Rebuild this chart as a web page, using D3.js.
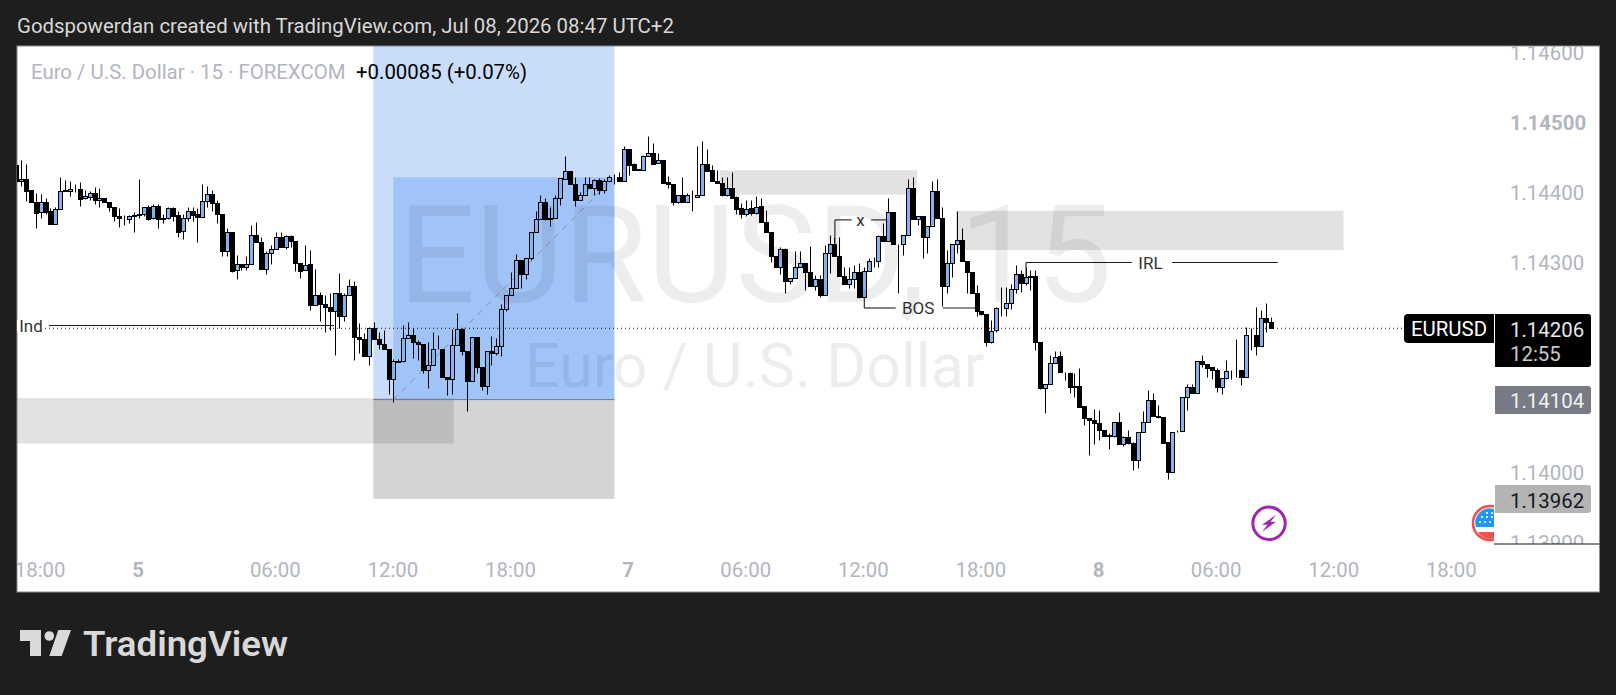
<!DOCTYPE html>
<html><head><meta charset="utf-8">
<script src="https://cdn.jsdelivr.net/npm/d3@7/dist/d3.min.js"></script>
<style>html,body{margin:0;padding:0;background:#1e1e1e;overflow:hidden}svg{display:block}text{font-family:Roboto,sans-serif}</style>
</head><body><div id="c"></div>
<script>
// OHLC values in points (1e-5) above the base price
const basePrice = 1.14;
const opens = [440,416,419,404,387,372,386,373,355,376,
404,402,405,405,392,394,399,390,393,386,
380,366,363,362,367,368,370,379,363,381,
362,363,378,368,345,363,373,369,365,388,
398,385,369,317,343,289,298,293,298,340,
330,291,313,319,336,322,338,331,300,289,
298,239,253,241,237,231,256,224,253,266,
193,190,167,207,191,183,177,133,158,159,
192,196,187,184,147,153,176,177,137,133,
182,205,173,130,193,150,123,173,170,180,
233,253,264,304,283,307,344,362,386,362,
364,392,420,431,413,390,397,412,406,418,
404,417,422,422,417,462,441,433,433,452,
456,442,447,415,413,387,396,387,397,394,
397,441,432,417,414,397,406,394,378,370,
378,371,381,358,343,309,294,319,273,278,
294,300,286,266,277,253,313,326,310,281,
270,276,286,251,288,302,302,338,331,372,
326,326,340,406,362,366,336,352,402,363,
266,300,327,332,302,287,257,230,226,187,
203,235,235,242,262,283,271,280,281,186,
120,126,156,166,143,142,122,124,95,78,
75,70,61,52,52,72,41,51,42,17,
57,72,103,81,79,43,0,57,59,108,
122,114,159,155,150,147,122,135,147,147,
147,137,196,196,180,221,215];
const closes = [416,419,403,387,371,386,372,355,376,403,
403,405,405,391,395,399,390,393,386,380,
366,363,363,366,368,369,379,362,381,362,
363,378,367,344,363,373,368,365,388,398,
385,369,317,343,288,298,293,298,340,330,
291,313,319,336,322,338,331,300,288,297,
239,253,241,237,231,256,224,253,266,193,
190,167,207,190,183,177,133,159,159,192,
196,187,184,147,153,176,177,137,133,182,
205,173,130,193,150,123,173,170,180,233,
253,264,303,283,307,344,362,386,362,364,
392,421,431,413,390,397,412,406,418,404,
417,422,422,417,462,440,433,434,452,456,
441,446,414,413,387,396,387,397,397,397,
441,431,417,414,397,406,393,377,370,377,
371,380,358,343,309,294,319,273,278,294,
300,286,266,276,253,313,326,310,281,270,
276,286,251,288,302,302,338,331,372,326,
326,340,406,362,366,336,352,402,363,266,
300,327,332,302,287,257,230,226,187,202,
235,235,242,262,283,271,279,281,186,120,
126,156,165,143,143,122,124,94,78,75,
70,61,52,53,72,41,51,42,17,57,
72,103,81,79,42,0,57,58,108,122,
114,159,155,149,146,122,135,145,147,147,
137,196,196,180,221,215,206];
const highs = [440,447,441,404,399,398,392,378,379,422,
418,416,413,415,404,402,408,406,393,386,
380,378,368,368,372,419,379,382,384,384,
370,379,379,374,370,379,379,378,412,410,
404,390,369,350,343,311,298,309,353,358,
336,316,325,344,343,340,340,331,300,325,
318,291,258,253,257,256,285,257,276,273,
213,199,208,215,200,204,177,162,162,210,
215,206,189,184,187,201,196,177,137,205,
228,206,173,193,194,150,173,195,192,240,
253,286,312,304,307,344,373,397,393,379,
397,421,452,431,422,401,423,423,420,421,
420,425,427,430,467,462,443,434,454,481,
471,456,447,424,413,396,422,400,404,467,
474,462,440,432,423,423,430,395,385,390,
390,395,392,375,343,309,322,321,278,316,
316,300,323,282,282,325,339,337,336,294,
294,296,299,294,306,308,339,356,393,372,
326,340,420,423,366,366,352,416,420,380,
318,327,373,349,302,287,268,230,226,218,
237,265,265,269,296,289,294,289,289,186,
127,168,173,174,143,143,142,149,95,78,
90,89,61,56,72,86,52,61,44,57,
87,118,113,96,79,43,57,61,108,127,
127,159,168,155,150,149,135,161,147,190,
147,208,206,236,232,242,222];
const lows = [416,410,388,387,350,364,369,355,355,376,
403,395,401,381,391,390,384,380,386,374,
359,351,353,357,343,363,366,361,362,350,
356,362,360,336,333,359,359,329,365,379,
373,356,309,309,287,277,290,290,298,330,
291,283,298,319,322,320,322,288,278,289,
232,239,216,200,204,168,207,216,253,161,
170,167,154,190,176,177,112,100,158,158,
192,163,161,142,121,153,176,137,110,112,
182,168,87,130,142,118,112,154,168,166,
230,253,264,263,277,304,344,362,361,352,
364,382,420,413,381,390,397,406,397,398,
400,417,412,417,417,425,433,433,433,452,
441,442,414,406,382,385,386,387,373,394,
397,431,417,414,395,395,393,370,364,366,
368,370,358,343,301,294,284,256,270,278,
294,261,266,261,251,253,285,310,281,270,
263,263,249,251,288,293,294,331,331,326,
256,311,340,362,354,307,313,352,363,238,
256,280,313,302,257,257,223,225,181,185,
201,224,224,233,256,258,268,261,175,119,
85,126,156,143,132,113,108,94,68,25,
41,46,52,34,51,41,37,41,4,6,
57,72,81,78,42,-10,0,57,59,89,
114,114,151,137,134,115,112,134,134,137,
125,137,175,168,180,200,206];

const priceTicks = [1.146,1.145,1.144,1.143,1.14,1.139];
const boldPrice = 1.145;
const timeTickBars = [5,25,53,77,101,125,149,173,197,221,245,269,293];
const timeTickLabels = ["18:00","5","06:00","12:00","18:00","7","06:00","12:00","18:00","8","06:00","12:00","18:00"];
const boldTimeLabels = ["5","7","8"];

const lastPrice = 1.14206, stopPrice = 1.14104, lowerPrice = 1.13962;
// shaded zones: bar index from/to, price top/bottom
const zoneBars = [[-5,89.2],[72.8,122],[143.5,183.8],[191.7,270.8]];
const zonePrices = [[1.14106,1.14041],[1.14104,1.13962],[1.14432,1.14397],[1.14374,1.14318]];
const zoneFills = ["rgba(0,0,0,.115)","rgba(0,0,0,.17)","rgba(0,0,0,.115)","rgba(0,0,0,.115)"];
const blueBars = [[72.8,122],[76.9,122]];
const bluePrices = [[1.1475,1.14104],[1.14422,1.14104]];

const W=1616,H=695,L=17,T=46,R=1599.5,B=592,PX=1494,AXB=544;
const x = d3.scaleLinear().domain([0,300]).range([16.6,16.6+4.9*300]);
const y = d3.scaleLinear().domain([1.145,1.14]).range([122.7,122.7+5*69.92]);
const p = v => basePrice + v/1e5;
const UP="#85b2ea", MUTED="#b2b5be", FS=20.4;

const svg = d3.select("#c").append("svg").attr("width",W).attr("height",H);
const defs = svg.append("defs");
defs.append("clipPath").attr("id","plot").append("rect").attr("x",L).attr("y",T).attr("width",PX-L).attr("height",B-T);
defs.append("clipPath").attr("id","pax").append("rect").attr("x",PX).attr("y",T).attr("width",R-PX).attr("height",AXB-T);
defs.append("clipPath").attr("id","tax").append("rect").attr("x",L).attr("y",AXB).attr("width",PX-L).attr("height",B-AXB);

svg.append("rect").attr("width",W).attr("height",H).attr("fill","#1e1e1e");
svg.append("rect").attr("x",L).attr("y",T).attr("width",R-L).attr("height",B-T).attr("fill","#fff").attr("stroke","#8c8c8c");

svg.append("text").attr("x",17).attr("y",33).attr("font-size",FS).attr("fill","#d8d8d8")
  .text("Godspowerdan created with TradingView.com, Jul 08, 2026 08:47 UTC+2");

const plot = svg.append("g").attr("clip-path","url(#plot)");

// blue position box
plot.selectAll("rect.blue").data(blueBars).join("rect").attr("class","blue")
  .attr("x",d=>x(d[0])).attr("width",d=>x(d[1])-x(d[0]))
  .attr("y",(d,i)=>y(bluePrices[i][0])).attr("height",(d,i)=>y(bluePrices[i][1])-y(bluePrices[i][0]))
  .attr("fill","rgba(41,120,240,.25)");
// grey zones
plot.selectAll("rect.zone").data(zoneBars).join("rect").attr("class","zone")
  .attr("x",d=>x(d[0])).attr("width",d=>x(d[1])-x(d[0]))
  .attr("y",(d,i)=>y(zonePrices[i][0])).attr("height",(d,i)=>y(zonePrices[i][1])-y(zonePrices[i][0]))
  .attr("fill",(d,i)=>zoneFills[i]);
plot.append("line").attr("x1",x(72.8)).attr("x2",x(122)).attr("y1",y(stopPrice)).attr("y2",y(stopPrice)).attr("stroke","#77797f");
plot.append("line").attr("x1",x(76.9)).attr("x2",x(122)).attr("y1",y(stopPrice)).attr("y2",y(1.14422))
  .attr("stroke","#8b8f9c").attr("stroke-dasharray","6 6");

// watermark
svg.append("text").attr("x",398).attr("y",302).attr("font-size",136).attr("fill","rgba(0,0,0,.07)").text("EURUSD, 15");
svg.append("text").attr("x",525).attr("y",387).attr("font-size",61).attr("fill","rgba(0,0,0,.07)").text("Euro / U.S. Dollar");

// legend
svg.append("text").attr("x",31).attr("y",79).attr("font-size",FS).attr("fill",MUTED).text("Euro / U.S. Dollar · 15 · FOREXCOM");
svg.append("text").attr("x",356).attr("y",79).attr("font-size",FS).attr("fill","#000").text("+0.00085 (+0.07%)");

// last price dotted line
plot.append("line").attr("x1",L).attr("x2",1404).attr("y1",y(lastPrice)).attr("y2",y(lastPrice))
  .attr("stroke","#111").attr("stroke-dasharray","1 3");

// candles, snapped to the pixel grid as the platform draws them
const bars = opens.map((o,i)=>({i,o:p(o),c:p(closes[i]),h:p(highs[i]),l:p(lows[i])}));
const sx = d=>Math.floor(x(d.i))+.5, sy = v=>Math.round(y(v))+.5;
const cg = plot.selectAll("g.c").data(bars).join("g").attr("class","c");
cg.append("line").attr("x1",sx).attr("x2",sx).attr("y1",d=>sy(d.h)).attr("y2",d=>sy(d.l)).attr("stroke","#000").attr("stroke-width",1);
cg.append("rect").attr("x",d=>sx(d)-2).attr("width",4)
  .attr("y",d=>sy(Math.max(d.o,d.c))).attr("height",d=>Math.abs(sy(d.o)-sy(d.c)))
  .attr("fill",d=>d.c>=d.o?UP:"#000").attr("stroke","#000").attr("stroke-width",1);

// annotations
const ink="#1c1c1c";
const seg=(i1,v1,i2,v2)=>plot.append("line").attr("x1",x(i1)).attr("x2",x(i2)).attr("y1",y(v1)).attr("y2",y(v2)).attr("stroke",ink).attr("stroke-width",1.1);
const lab=(t,i,v,bg)=>{
  if(bg) plot.append("rect").attr("x",x(i)-14).attr("y",y(v)-6).attr("width",28).attr("height",12).attr("fill","#fff");
  return plot.append("text").attr("x",x(i)).attr("y",y(v)).attr("dy","0.36em").attr("text-anchor","middle").attr("font-size",17).attr("fill","#333").text(t);
};
// Ind
seg(6.6,1.1421,64.8,1.1421);
lab("Ind",2.95,1.1421,true);
// x
seg(167,1.14361,167,1.14326); seg(167,1.14361,170.4,1.14361); lab("x",172.2,1.14361); seg(174.4,1.14361,177.6,1.14361);
// BOS
seg(173,1.14251,173,1.14235); seg(173,1.14235,179.4,1.14235); lab("BOS",184,1.14235); seg(189,1.14235,196,1.14235);
// IRL
seg(206,1.143,206,1.14279); seg(206,1.143,227.6,1.143); lab("IRL",231.4,1.143); seg(235.8,1.143,257.4,1.143);

// event icons
const ic = svg.append("g").attr("transform",`translate(${x(255.6)},523.3)`);
ic.append("circle").attr("r",16.2).attr("fill","#fff").attr("stroke","#9c27b0").attr("stroke-width",3);
ic.append("path").attr("d","M7 -8.5 L-7 1.5 L-1.5 1.5 L-7 8.5 L7 -1.5 L1.5 -1.5 Z").attr("fill","#9c27b0");
const fl = svg.append("g").attr("clip-path","url(#plot)").append("g").attr("transform","translate(1490,523)");
fl.append("circle").attr("r",17).attr("fill","#fff").attr("stroke","#ef5350").attr("stroke-width",2.6);
fl.append("path").attr("d","M-14 4 A14.2 14.2 0 0 1 10 -10 L10 4 Z").attr("fill","#2196f3");
fl.append("g").attr("fill","#fff").selectAll("circle").data([[-10,-1],[-5,-1],[0,-1],[-8,-6],[-3,-6],[2,-6],[-3,-10],[2,-10]]).join("circle")
  .attr("cx",d=>d[0]).attr("cy",d=>d[1]).attr("r",1.1);
fl.append("path").attr("d","M-12 9 H12 A14 14 0 0 1 -12 9 Z").attr("fill","#ef5350");

// axes
const yAxis = d3.axisRight(y).tickValues(priceTicks).tickSize(0).tickPadding(0).tickFormat(d3.format(".5f"));
const yg = svg.append("g").attr("clip-path","url(#pax)").append("g").attr("transform","translate(1510,0.5)").call(yAxis);
yg.select(".domain").remove();
yg.selectAll("text").attr("x",0).attr("font-size",FS).attr("font-family","Roboto,sans-serif").attr("fill",MUTED)
  .attr("font-weight",d=>d===boldPrice?700:400);
const xAxis = d3.axisBottom(x).tickValues(timeTickBars).tickSize(0).tickPadding(0).tickFormat((d,i)=>timeTickLabels[i]);
const xg = svg.append("g").attr("clip-path","url(#tax)").append("g").attr("transform","translate(-1.5,562.5)").call(xAxis);
xg.select(".domain").remove();
xg.selectAll("text").attr("font-size",FS).attr("font-family","Roboto,sans-serif").attr("fill",MUTED)
  .attr("font-weight",(d,i)=>boldTimeLabels.includes(timeTickLabels[i])?700:400);
svg.append("line").attr("x1",PX).attr("x2",R).attr("y1",AXB).attr("y2",AXB).attr("stroke","#111");

// price tags
svg.append("path").attr("d","M1494 314 H1408 a4 4 0 0 0 -4 4 V339 a4 4 0 0 0 4 4 H1494 Z").attr("fill","#000");
svg.append("text").attr("x",1449).attr("y",336).attr("text-anchor","middle").attr("font-size",FS).attr("fill","#fff").text("EURUSD");
const tag=(y0,y1,fill)=>svg.append("path").attr("d",`M1495 ${y0} H1588 a3 3 0 0 1 3 3 V${y1-3} a3 3 0 0 1 -3 3 H1495 Z`).attr("fill",fill);
tag(314,367,"#000"); tag(386,414,"#787b86"); tag(485,513,"#b4b4b4");
const tagText=(t,yy,fill,xx=1510)=>svg.append("text").attr("x",xx).attr("y",yy).attr("font-size",FS).attr("fill",fill).text(t);
tagText(d3.format(".5f")(lastPrice),337,"#e8e8e8");
tagText("12:55",361,"#c9c9c9");
tagText(d3.format(".5f")(stopPrice),408,"#f2f2f2");
tagText(d3.format(".5f")(lowerPrice),507.5,"#131722");

// logo
const lg = svg.append("g").attr("fill","#d9d9d9");
lg.append("path").attr("d","M20 630 H41 V656 H30 V641 H20 Z");
lg.append("circle").attr("cx",49.3).attr("cy",636).attr("r",4.8);
lg.append("path").attr("d","M58.3 630 H71 L61.7 656 H49.3 Z");
lg.append("text").attr("x",83).attr("y",656).attr("font-size",35).attr("font-family","Inter,sans-serif").attr("font-weight",600).attr("textLength",205).attr("lengthAdjust","spacingAndGlyphs").text("TradingView");
</script></body></html>
